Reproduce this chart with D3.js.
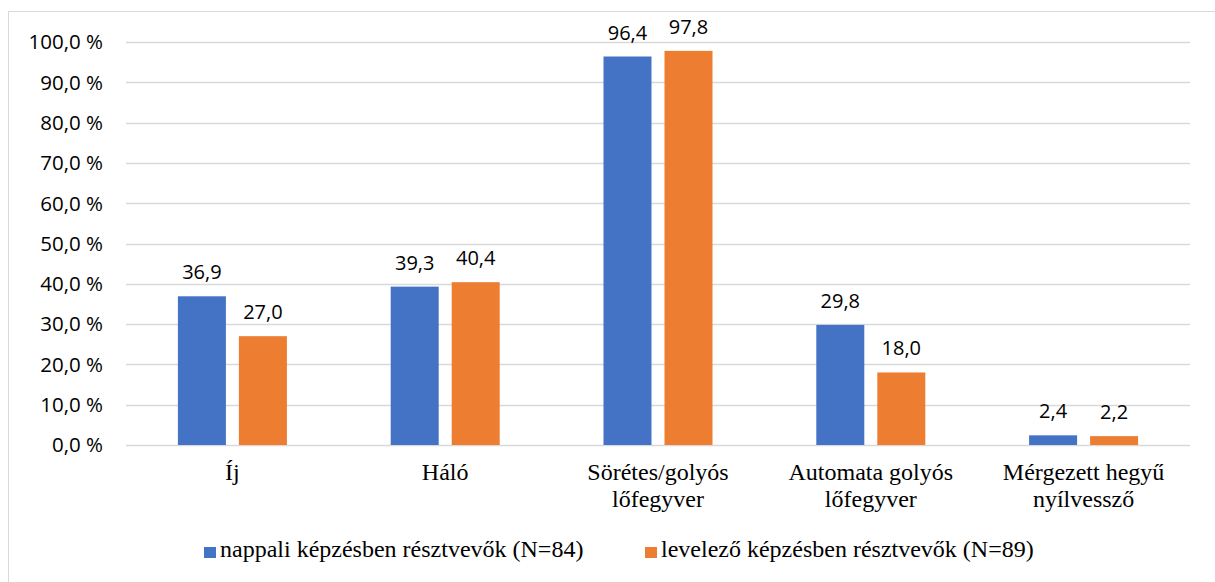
<!DOCTYPE html>
<html>
<head>
<meta charset="utf-8">
<script src="https://cdn.jsdelivr.net/npm/d3@7"></script>
<style>
  body { margin: 0; background: #fff; }
  svg { display: block; }
</style>
</head>
<body>
<svg id="svg" width="1215" height="582"></svg>
<script>
// adatok
var categories = [["Íj"], ["Háló"], ["Sörétes/golyós", "lőfegyver"], ["Automata golyós", "lőfegyver"], ["Mérgezett hegyű", "nyílvessző"]];
var seriesNames = ["nappali képzésben résztvevők (N=84)", "levelező képzésben résztvevők (N=89)"];
var nappali = [36.9, 39.3, 96.4, 29.8, 2.4];
var levelezo = [27.0, 40.4, 97.8, 18.0, 2.2];
var yTicks = [0, 10, 20, 30, 40, 50, 60, 70, 80, 90, 100];
var colors = ["#4472C4", "#ED7D31"];

var svg = d3.select("svg"),
    margin = {top: 42, right: 25, bottom: 137, left: 126},
    width = 1215 - margin.left - margin.right,
    height = 582 - margin.top - margin.bottom;

// keret
svg.append("rect")
    .attr("x", 8.5).attr("y", 11.5)
    .attr("width", 1230).attr("height", 600)
    .attr("fill", "none")
    .attr("stroke", "#d9d9d9");

var g = svg.append("g").attr("transform", "translate(" + margin.left + "," + margin.top + ")");

var x0 = d3.scaleBand()
    .domain(d3.range(categories.length))
    .range([0, width]);

// két oszlop kategóriánként, 13px hézaggal
var x1 = d3.scaleBand()
    .domain([0, 1])
    .range([-54.5, 54.5])
    .paddingInner(2 - 109 / 61);

var y = d3.scaleLinear()
    .domain([0, 100])
    .range([height, 0]);

// rácsvonalak
g.selectAll(".grid")
    .data(yTicks)
    .enter().append("line")
    .attr("x1", 0).attr("x2", width)
    .attr("y1", function (d) { return Math.round(y(d)) + 0.5; })
    .attr("y2", function (d) { return Math.round(y(d)) + 0.5; })
    .attr("stroke", "#d9d9d9")
    .attr("stroke-width", 1.5);

// y tengely feliratai
g.selectAll(".ytick")
    .data(yTicks)
    .enter().append("text")
    .attr("x", -23)
    .attr("y", function (d) { return y(d); })
    .attr("dy", "0.36em")
    .attr("text-anchor", "end")
    .style("font-family", "'Open Sans', sans-serif")
    .style("font-size", "20.5px")
    .attr("fill", "#000")
    .text(function (d) { return d.toFixed(1).replace(".", ",") + " %"; });

var series = [nappali, levelezo];

series.forEach(function (vals, s) {
    var bar = g.selectAll(".bar" + s)
        .data(vals)
        .enter().append("g")
        .attr("transform", function (d, i) {
            return "translate(" + (x0(i) + x0.bandwidth() / 2 + x1(s)) + ",0)";
        });

    bar.append("rect")
        .attr("x", 0)
        .attr("y", function (d) { return y(d); })
        .attr("width", x1.bandwidth())
        .attr("height", function (d) { return height - y(d); })
        .attr("fill", colors[s]);

    bar.append("text")
        .attr("x", x1.bandwidth() / 2)
        .attr("y", function (d) { return y(d) - 17; })
        .attr("text-anchor", "middle")
        .style("font-family", "'Open Sans', sans-serif")
        .style("font-size", "20px")
        .attr("fill", "#000")
        .text(function (d) { return d.toFixed(1).replace(".", ","); });
});

// kategória feliratok
var cat = g.selectAll(".cat")
    .data(categories)
    .enter().append("text")
    .attr("x", function (d, i) { return x0(i) + x0.bandwidth() / 2; })
    .attr("y", height + 35)
    .attr("text-anchor", "middle")
    .style("font-family", "'Liberation Serif', 'Times New Roman', serif")
    .style("font-size", "24px")
    .attr("fill", "#000");

cat.selectAll("tspan")
    .data(function (d) { return d; })
    .enter().append("tspan")
    .attr("x", function () { return d3.select(this.parentNode).attr("x"); })
    .attr("dy", function (d, i) { return i === 0 ? 0 : 27; })
    .text(function (d) { return d; });

// jelmagyarázat
var legendX = [204, 645];
var legend = svg.selectAll(".legend")
    .data(seriesNames)
    .enter().append("g")
    .attr("transform", function (d, i) { return "translate(" + legendX[i] + ",557)"; });

legend.append("rect")
    .attr("x", 0).attr("y", -10)
    .attr("width", 12).attr("height", 11)
    .attr("fill", function (d, i) { return colors[i]; });

legend.append("text")
    .attr("x", 16)
    .attr("y", 0)
    .style("font-family", "'Liberation Serif', 'Times New Roman', serif")
    .style("font-size", "24px")
    .attr("fill", "#000")
    .text(function (d) { return d; });
</script>
</body>
</html>
